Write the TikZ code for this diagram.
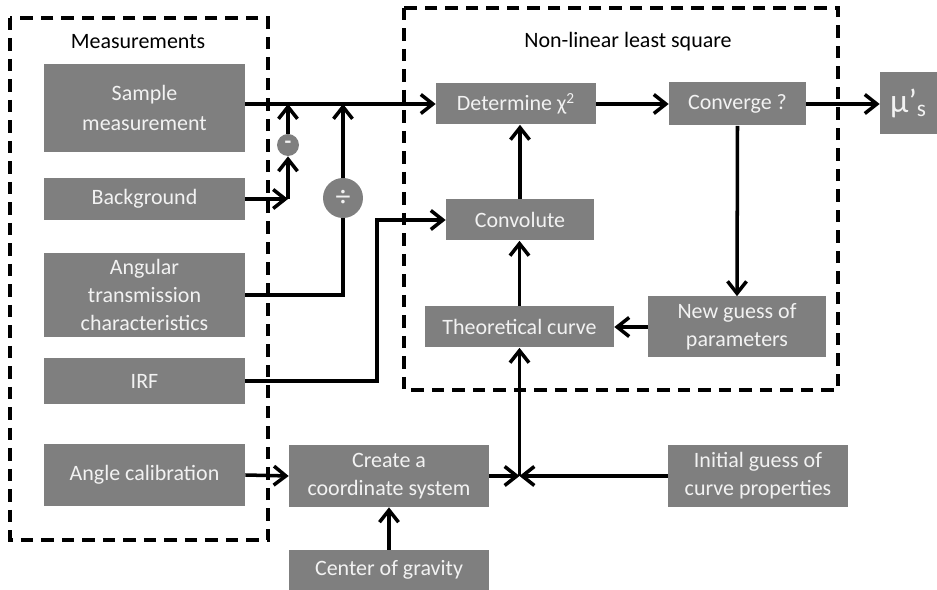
\documentclass[tikz,border=0pt]{standalone}
\usepackage{fontspec}
\setmainfont{Carlito}
\usepackage{tikz}
\usetikzlibrary{calc,arrows.meta}
\definecolor{boxgray}{RGB}{127,127,127}
\definecolor{boxtext}{RGB}{242,242,242}
\begin{document}
\begin{tikzpicture}[x=0.02cm,y=-0.02cm,
    blk/.style={fill=boxgray,text=boxtext,align=center,inner sep=0pt,font=\fontsize{12.5}{15}\selectfont},
    op/.style={circle,fill=boxgray,text=boxtext,inner sep=0pt,font=\fontsize{12.5}{15}\selectfont\bfseries},
    grp/.style={line width=2.1pt,dash pattern=on 0.25cm off 0.16cm},
    arr/.style={line width=2pt,-{Straight Barb[length=2.4mm,width=3.8mm]}},
    ln/.style={line width=2pt}]
                      \useasboundingbox (0,0) rectangle (937,590);
                      % dashed groups
                      \draw[grp] (10,18) rectangle (268,540);
                      \draw[grp] (404,8) rectangle (838,390);
                      \node[font=\fontsize{12.5}{15}\selectfont](mlab)at(138,42){Measurements};
                      \node[font=\fontsize{12.5}{15}\selectfont](nlab)at(628,42){Non-linear least square};
                      % measurement boxes
                      \node[blk,minimum width=4.02cm,minimum height=1.76cm](sample)at(144.5,108){Sample\\[2pt]measurement};
                      \node[blk,minimum width=4.02cm,minimum height=0.84cm](bg)at(144.5,199){Background};
                      \node[blk,minimum width=4.02cm,minimum height=1.68cm](ang)at(144.5,295){Angular\\[1pt]transmission\\[1pt]characteristics};
                      \node[blk,minimum width=4.02cm,minimum height=0.92cm](irf)at(144.5,381){IRF};
                      \node[blk,minimum width=4.02cm,minimum height=1.24cm](acal)at(144.5,475){Angle calibration};
                      \node[blk,minimum width=4.0cm,minimum height=1.24cm](coord)at(389,476){Create a\\[1pt]coordinate system};
                      \node[blk,minimum width=4.0cm,minimum height=0.8cm](cog)at(389,570){Center of gravity};
                      \node[blk,minimum width=3.6cm,minimum height=1.24cm](init)at(758,476){Initial guess of\\[1pt]curve properties};
                      % fitting boxes
                      \node[blk,minimum width=3.2cm,minimum height=0.82cm](chi)at(516,104){Determine χ\textsuperscript{2}};
                      \node[blk,minimum width=2.74cm,minimum height=0.86cm](conv)at(737.5,104){Converge ?};
                      \node[blk,minimum width=1.14cm,minimum height=1.24cm,font=\fontsize{19}{22}\selectfont](mus)at(908.5,103){μ’\textsubscript{s}};
                      \node[blk,minimum width=2.96cm,minimum height=0.82cm](cnv)at(520,220){Convolute};
                      \node[blk,minimum width=3.78cm,minimum height=0.82cm](theo)at(519.5,327){Theoretical curve};
                      \node[blk,minimum width=3.56cm,minimum height=1.22cm](newg)at(737,327){New guess of\\[1pt]parameters};
                      % operators
                      \node[op,minimum size=0.44cm](minus)at(288,145){-};
                      \node[op,minimum size=0.8cm,font=\fontsize{17}{20}\selectfont](divide)at(343,198){÷};
                      \coordinate(bgturn)at(minus|-bg.east);
                      \coordinate(irfturn)at(377,381);
                      \coordinate(join)at(theo.south|-coord.east);
                      % connectors
                      \draw[arr](sample.east|-chi.west)--(chi.west);
                      \draw[arr](bg.east)--(bgturn);
                      \draw[arr](bgturn)--(minus.south);
                      \draw[arr](minus.north)--(minus|-chi.west);
                      \draw[ln](ang.east)-|(divide.south);
                      \draw[arr](divide.north)--(divide|-chi.west);
                      \draw[arr](irf.east)--(irfturn)|-(cnv.west);
                      \draw[arr](acal.east)--(coord.west);
                      \draw[arr](cog.north)--(coord.south);
                      \draw[arr](coord.east)--(join);
                      \draw[arr](init.west)--(join);
                      \draw[arr](join)--(theo.south);
                      \draw[arr](theo.north)--(theo.north|-cnv.south);
                      \draw[arr](cnv.north)--(cnv.north|-chi.south);
                      \draw[arr](chi.east)--(conv.west);
                      \draw[arr](conv.south)--(newg.north);
                      \draw[arr](newg.west)--(theo.east);
                      \draw[arr](conv.east)--(mus.west|-conv.east);
                  \end{tikzpicture}
\end{document}
